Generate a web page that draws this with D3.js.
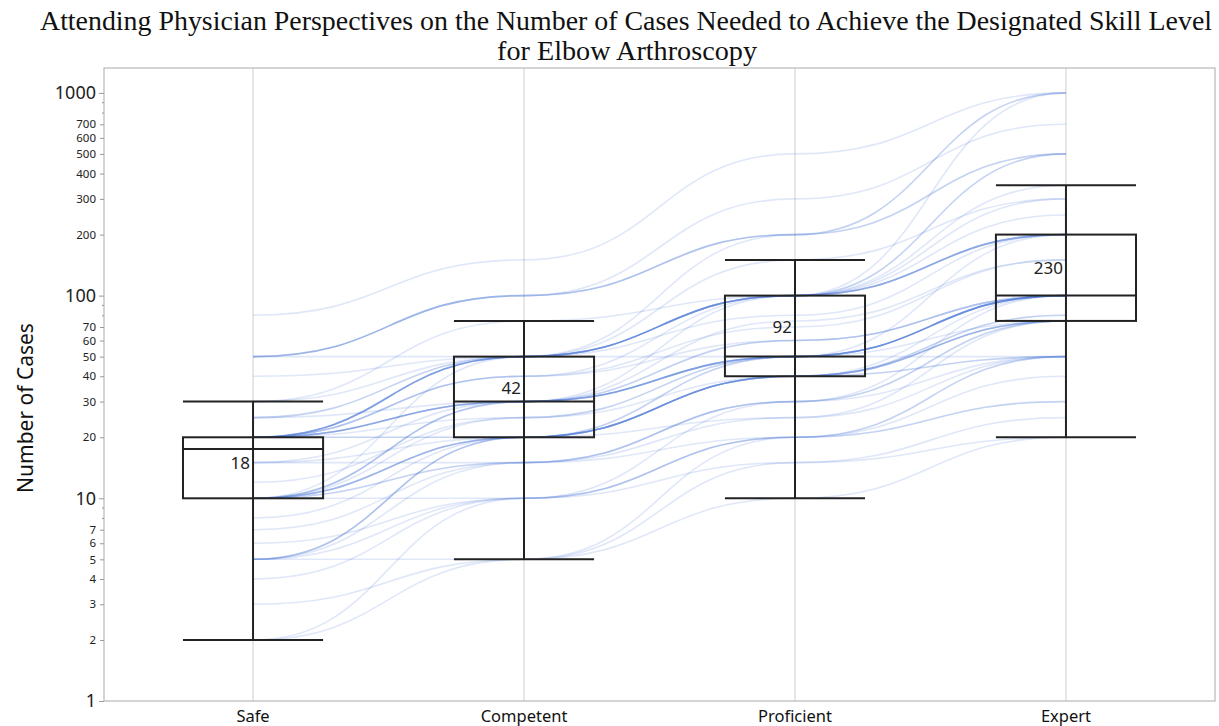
<!DOCTYPE html>
<html>
<head>
<meta charset="utf-8">
<script src="https://cdn.jsdelivr.net/npm/d3@7"></script>
<style>
  html, body { margin: 0; padding: 0; background: #fff; }
  svg { display: block; }
</style>
</head>
<body>
<svg id="chart" width="1219" height="726"></svg>
<script>
// Skill levels on the x axis
const levels = ["Safe", "Competent", "Proficient", "Expert"];

// Each respondent's case-count estimate for every level (same index = same physician)
const safeCases       = [2, 2, 3, 4, 5, 5, 5, 5, 5, 5, 6, 7, 8, 10, 10, 10, 10, 10, 10, 10, 10, 10, 10, 10, 10, 12, 15, 15, 15, 20, 20, 20, 20, 20, 20, 20, 20, 20, 20, 20, 20, 20, 20, 20, 20, 20, 25, 25, 25, 30, 30, 40, 50, 50, 50, 50, 50, 80];
const competentCases  = [5, 10, 5, 10, 5, 10, 15, 20, 20, 20, 10, 15, 20, 10, 15, 20, 20, 25, 30, 20, 30, 15, 50, 20, 30, 25, 15, 30, 20, 40, 20, 30, 50, 30, 50, 25, 40, 50, 30, 20, 50, 30, 50, 40, 50, 30, 50, 30, 50, 75, 50, 50, 50, 100, 100, 100, 100, 150];
const proficientCases = [10, 30, 20, 20, 15, 20, 30, 50, 25, 40, 20, 30, 40, 15, 25, 40, 40, 50, 50, 50, 60, 30, 100, 40, 75, 50, 20, 50, 40, 100, 40, 50, 100, 50, 100, 40, 70, 100, 60, 40, 80, 100, 150, 60, 100, 50, 100, 50, 200, 100, 100, 100, 50, 200, 200, 300, 200, 500];
const expertCases     = [20, 100, 50, 50, 25, 40, 75, 100, 50, 75, 30, 50, 100, 20, 75, 50, 75, 100, 100, 100, 100, 75, 200, 80, 150, 100, 30, 100, 75, 200, 50, 100, 200, 75, 300, 80, 150, 500, 100, 75, 200, 250, 300, 100, 1000, 200, 200, 100, 500, 200, 350, 500, 50, 500, 1000, 700, 1000, 1000];

// Box-plot summaries per level
const whiskerLow  = [2, 5, 10, 20];
const quartile1   = [10, 20, 40, 75];
const medians     = [17.5, 30, 50, 100];
const quartile3   = [20, 50, 100, 200];
const whiskerHigh = [30, 75, 150, 350];
const meanLabels  = [18, 42, 92, 230];

// Axis tick values (log scale)
const majorTicks = [1, 10, 100, 1000];
const minorLabeledTicks = [2, 3, 4, 5, 6, 7, 20, 30, 40, 50, 60, 70, 200, 300, 400, 500, 600, 700];
const minorUnlabeledTicks = [8, 9, 80, 90, 800, 900];

const svg = d3.select("#chart");
const plotLeft = 104, plotRight = 1215, plotTop = 68, plotBottom = 701;

const x = d3.scalePoint().domain(levels).range([plotLeft, plotRight]).padding(0.55);
const y = d3.scaleLog().domain([1, 1327]).range([plotBottom, plotTop]);

const sans = "'Noto Sans', 'Open Sans', sans-serif";

// Title
const title = svg.append("g").attr("font-family", "'Liberation Serif', 'Times New Roman', serif")
  .attr("font-size", 27).attr("fill", "#111").attr("text-anchor", "middle");
title.append("text").attr("x", 626).attr("y", 30)
  .attr("textLength", 1172).attr("lengthAdjust", "spacingAndGlyphs")
  .text("Attending Physician Perspectives on the Number of Cases Needed to Achieve the Designated Skill Level");
title.append("text").attr("x", 627).attr("y", 60)
  .attr("textLength", 260).attr("lengthAdjust", "spacingAndGlyphs")
  .text("for Elbow Arthroscopy");

// Vertical reference lines at each level
svg.append("g").selectAll("line").data(levels).join("line")
  .attr("x1", d => x(d)).attr("x2", d => x(d))
  .attr("y1", plotTop).attr("y2", plotBottom)
  .attr("stroke", "#cfcfcf").attr("stroke-width", 1);

// Plot frame
svg.append("rect").attr("x", plotLeft).attr("y", plotTop)
  .attr("width", plotRight - plotLeft).attr("height", plotBottom - plotTop)
  .attr("fill", "none").attr("stroke", "#b8b8b8").attr("stroke-width", 1.2);

// Y axis ticks and labels
const yAxisMajor = d3.axisLeft(y).tickValues(majorTicks).tickFormat(d3.format("d")).tickSize(5).tickPadding(3);
const yAxisMinor = d3.axisLeft(y).tickValues(minorLabeledTicks).tickFormat(d3.format("d")).tickSize(4).tickPadding(4);
const yAxisSmall = d3.axisLeft(y).tickValues(minorUnlabeledTicks).tickFormat("").tickSize(2);

function styleAxis(g, size) {
  g.select(".domain").remove();
  g.selectAll(".tick line").attr("stroke", "#999");
  g.selectAll(".tick text").attr("fill", "#222").attr("font-family", sans).attr("font-size", size);
}
svg.append("g").attr("transform", `translate(${plotLeft},0)`).call(yAxisMinor).call(g => styleAxis(g, 11.5));
svg.append("g").attr("transform", `translate(${plotLeft},0)`).call(yAxisSmall).call(g => styleAxis(g, 10));
svg.append("g").attr("transform", `translate(${plotLeft},0)`).call(yAxisMajor).call(g => styleAxis(g, 18));

// Y axis title
svg.append("text")
  .attr("transform", "translate(33,408) rotate(-90)")
  .attr("text-anchor", "middle").attr("font-family", sans).attr("font-size", 21)
  .attr("fill", "#111").text("Number of Cases");

// X axis labels
svg.append("g").selectAll("text").data(levels).join("text")
  .attr("x", d => x(d)).attr("y", 722)
  .attr("text-anchor", "middle").attr("font-family", sans).attr("font-size", 16.5)
  .attr("fill", "#111").text(d => d);

// One smooth line per respondent
const respondents = safeCases.map((s, i) => [s, competentCases[i], proficientCases[i], expertCases[i]]);
const line = d3.line()
  .x((d, i) => x(levels[i]))
  .y(d => y(d))
  .curve(d3.curveBumpX);

svg.append("g").selectAll("path").data(respondents).join("path")
  .attr("d", line)
  .attr("fill", "none")
  .attr("stroke", "#3f6fd8")
  .attr("stroke-opacity", 0.17)
  .attr("stroke-width", 1.6);

// Box plots
const boxW = x.step() * 0.517;
const boxes = svg.append("g").selectAll("g").data(levels).join("g");
const stroke = "#222";

boxes.append("line") // whisker stem
  .attr("x1", d => x(d)).attr("x2", d => x(d))
  .attr("y1", (d, i) => y(whiskerLow[i])).attr("y2", (d, i) => y(whiskerHigh[i]))
  .attr("stroke", stroke).attr("stroke-width", 2);
boxes.append("line") // lower cap
  .attr("x1", d => x(d) - boxW / 2).attr("x2", d => x(d) + boxW / 2)
  .attr("y1", (d, i) => y(whiskerLow[i])).attr("y2", (d, i) => y(whiskerLow[i]))
  .attr("stroke", stroke).attr("stroke-width", 2);
boxes.append("line") // upper cap
  .attr("x1", d => x(d) - boxW / 2).attr("x2", d => x(d) + boxW / 2)
  .attr("y1", (d, i) => y(whiskerHigh[i])).attr("y2", (d, i) => y(whiskerHigh[i]))
  .attr("stroke", stroke).attr("stroke-width", 2);
boxes.append("rect") // interquartile box
  .attr("x", d => x(d) - boxW / 2).attr("width", boxW)
  .attr("y", (d, i) => y(quartile3[i]))
  .attr("height", (d, i) => y(quartile1[i]) - y(quartile3[i]))
  .attr("fill", "none").attr("stroke", stroke).attr("stroke-width", 2);
boxes.append("line") // median
  .attr("x1", d => x(d) - boxW / 2).attr("x2", d => x(d) + boxW / 2)
  .attr("y1", (d, i) => y(medians[i])).attr("y2", (d, i) => y(medians[i]))
  .attr("stroke", stroke).attr("stroke-width", 2);
boxes.append("text") // mean value label
  .attr("x", d => x(d) - 3)
  .attr("y", (d, i) => y((quartile1[i] + quartile3[i]) / 2))
  .attr("dy", "0.35em")
  .attr("text-anchor", "end").attr("font-family", sans).attr("font-size", 17)
  .attr("fill", "#222")
  .text((d, i) => meanLabels[i]);
</script>
</body>
</html>
